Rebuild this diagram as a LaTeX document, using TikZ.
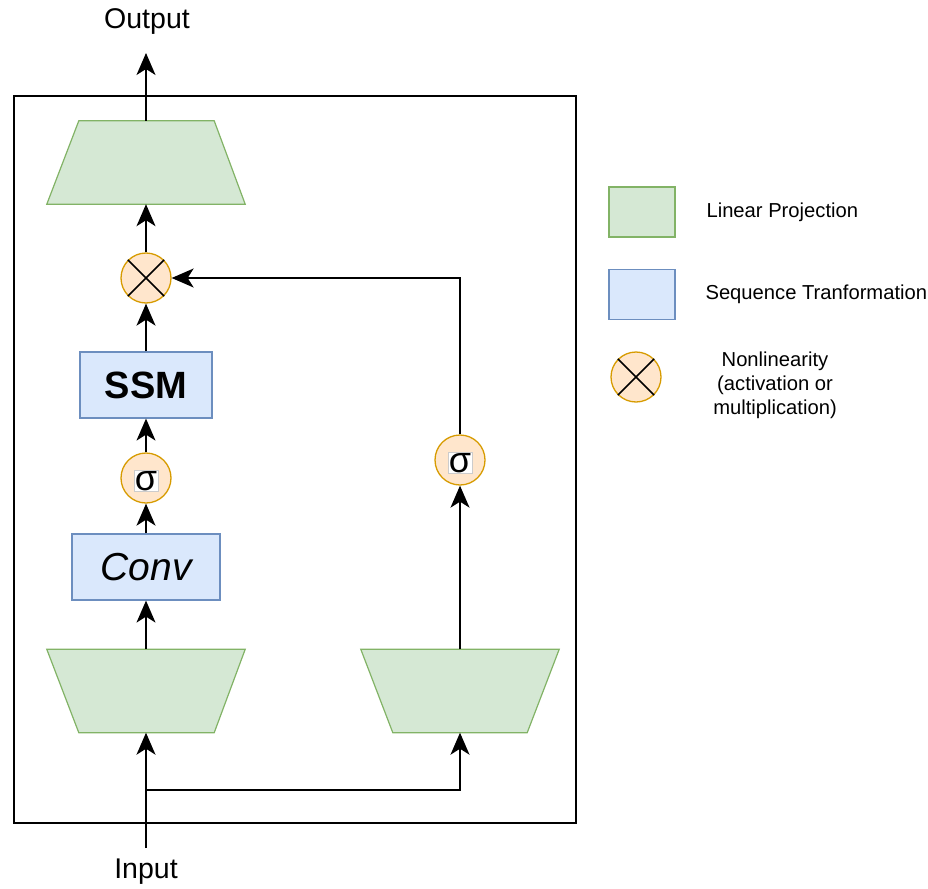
\documentclass[tikz,border=0pt]{standalone}
\usepackage{fontspec}
\setmainfont{Liberation Sans}
\usetikzlibrary{arrows.meta}
\definecolor{gfill}{HTML}{D5E8D4}
\definecolor{gline}{HTML}{82B366}
\definecolor{bfill}{HTML}{DAE8FC}
\definecolor{bline}{HTML}{6C8EBF}
\definecolor{ofill}{HTML}{FFE6CC}
\definecolor{oline}{HTML}{D79B00}
\begin{document}
\begin{tikzpicture}[x=1pt,y=-1pt,
  conn/.style={line width=1.5pt,arrows={-Stealth[length=22pt,width=19pt,inset=6pt]}},
  tbox/.style={draw=none,minimum width=198pt,minimum height=83pt,inner sep=0pt},
  trap/.style={draw=gline,fill=gfill,line width=1.2pt},
  seqbox/.style={draw=bline,fill=bfill,line width=1.2pt,inner sep=0pt,minimum height=66pt},
  nlin/.style={circle,draw=oline,fill=ofill,line width=1.3pt,minimum size=50pt,inner sep=0pt},
  sigtxt/.style={fill=white,draw=black!20,line width=0.4pt,inner sep=1pt,font=\fontsize{36}{40}\selectfont},
  big/.style={font=\fontsize{28.5}{34}\selectfont},
  leg/.style={font=\fontsize{20.2}{24}\selectfont},
  frame/.style={draw=black,line width=1.5pt,inner sep=0pt}
]
\useasboundingbox (0,0) rectangle (928,888);

% outer frame
\node[frame,minimum width=562pt,minimum height=727pt] (fr) at (295,459.5) {};

% top trapezoid (narrow on top)
\node[tbox] (pt) at (146,162.5) {};
\draw[trap] ([xshift=32pt]pt.north west) -- ([xshift=-31pt]pt.north east) -- (pt.south east) -- (pt.south west) -- cycle;

% bottom-left trapezoid (wide on top)
\node[tbox] (pl) at (146,691) {};
\draw[trap] (pl.north west) -- (pl.north east) -- ([xshift=-31pt]pl.south east) -- ([xshift=32pt]pl.south west) -- cycle;

% bottom-right trapezoid
\node[tbox] (pr) at (460,691) {};
\draw[trap] (pr.north west) -- (pr.north east) -- ([xshift=-32pt]pr.south east) -- ([xshift=32pt]pr.south west) -- cycle;

% multiplication
\node[nlin] (m) at (146,278) {};
\draw[line width=1.5pt] (m.north west) -- (m.south east) (m.north east) -- (m.south west);

% SSM
\node[seqbox,minimum width=132pt] (ssm) at (146,385) {\fontsize{38}{44}\selectfont\bfseries SSM};

% sigma left
\node[nlin] (s1) at (146,478) {};
\node[sigtxt] (s1t) at (146,481) {σ};

% Conv
\node[seqbox,minimum width=148pt] (conv) at (146,567) {\fontsize{39}{44}\selectfont\itshape Conv};

% sigma right
\node[nlin] (s2) at (460,460) {};
\node[sigtxt] (s2t) at (460,463) {σ};

% texts
\node[big] (out) at (147,22) {Output};
\node[big] (inp) at (146,872) {Input};
\coordinate (outend) at (146,53);
\coordinate (instart) at (146,848);
\coordinate (br) at (146,790);

% connectors
\draw[conn] (pt.north) -- (outend);
\draw[conn] (m.north) -- (pt.south);
\draw[conn] (ssm.north) -- (m.south);
\draw[conn] (s1.north) -- (ssm.south);
\draw[conn] (conv.north) -- (s1.south);
\draw[conn] (pl.north) -- (conv.south);
\draw[conn] (instart) -- (pl.south);
\draw[conn] (br) -| (pr.south);
\draw[conn] (pr.north) -- (s2.south);
\draw[conn] (s2.north) |- (m.east);

% legend
\node[draw=gline,fill=gfill,line width=1.2pt,minimum width=66pt,minimum height=50pt,inner sep=0pt] (lg) at (642,212) {};
\node[leg,anchor=west] (lgt) at (703,212) {Linear Projection};
\node[draw=bline,fill=bfill,line width=1.2pt,minimum width=66pt,minimum height=50pt,inner sep=0pt] (lb) at (642,294.5) {};
\node[leg,anchor=west] (lbt) at (702,294.5) {Sequence Tranformation};
\node[nlin] (lo) at (636,377) {};
\draw[line width=1.5pt] (lo.north west) -- (lo.south east) (lo.north east) -- (lo.south west);
\node[leg,align=center] (lot) at (775,385) {Nonlinearity\\(activation or\\multiplication)};
\end{tikzpicture}
\end{document}
